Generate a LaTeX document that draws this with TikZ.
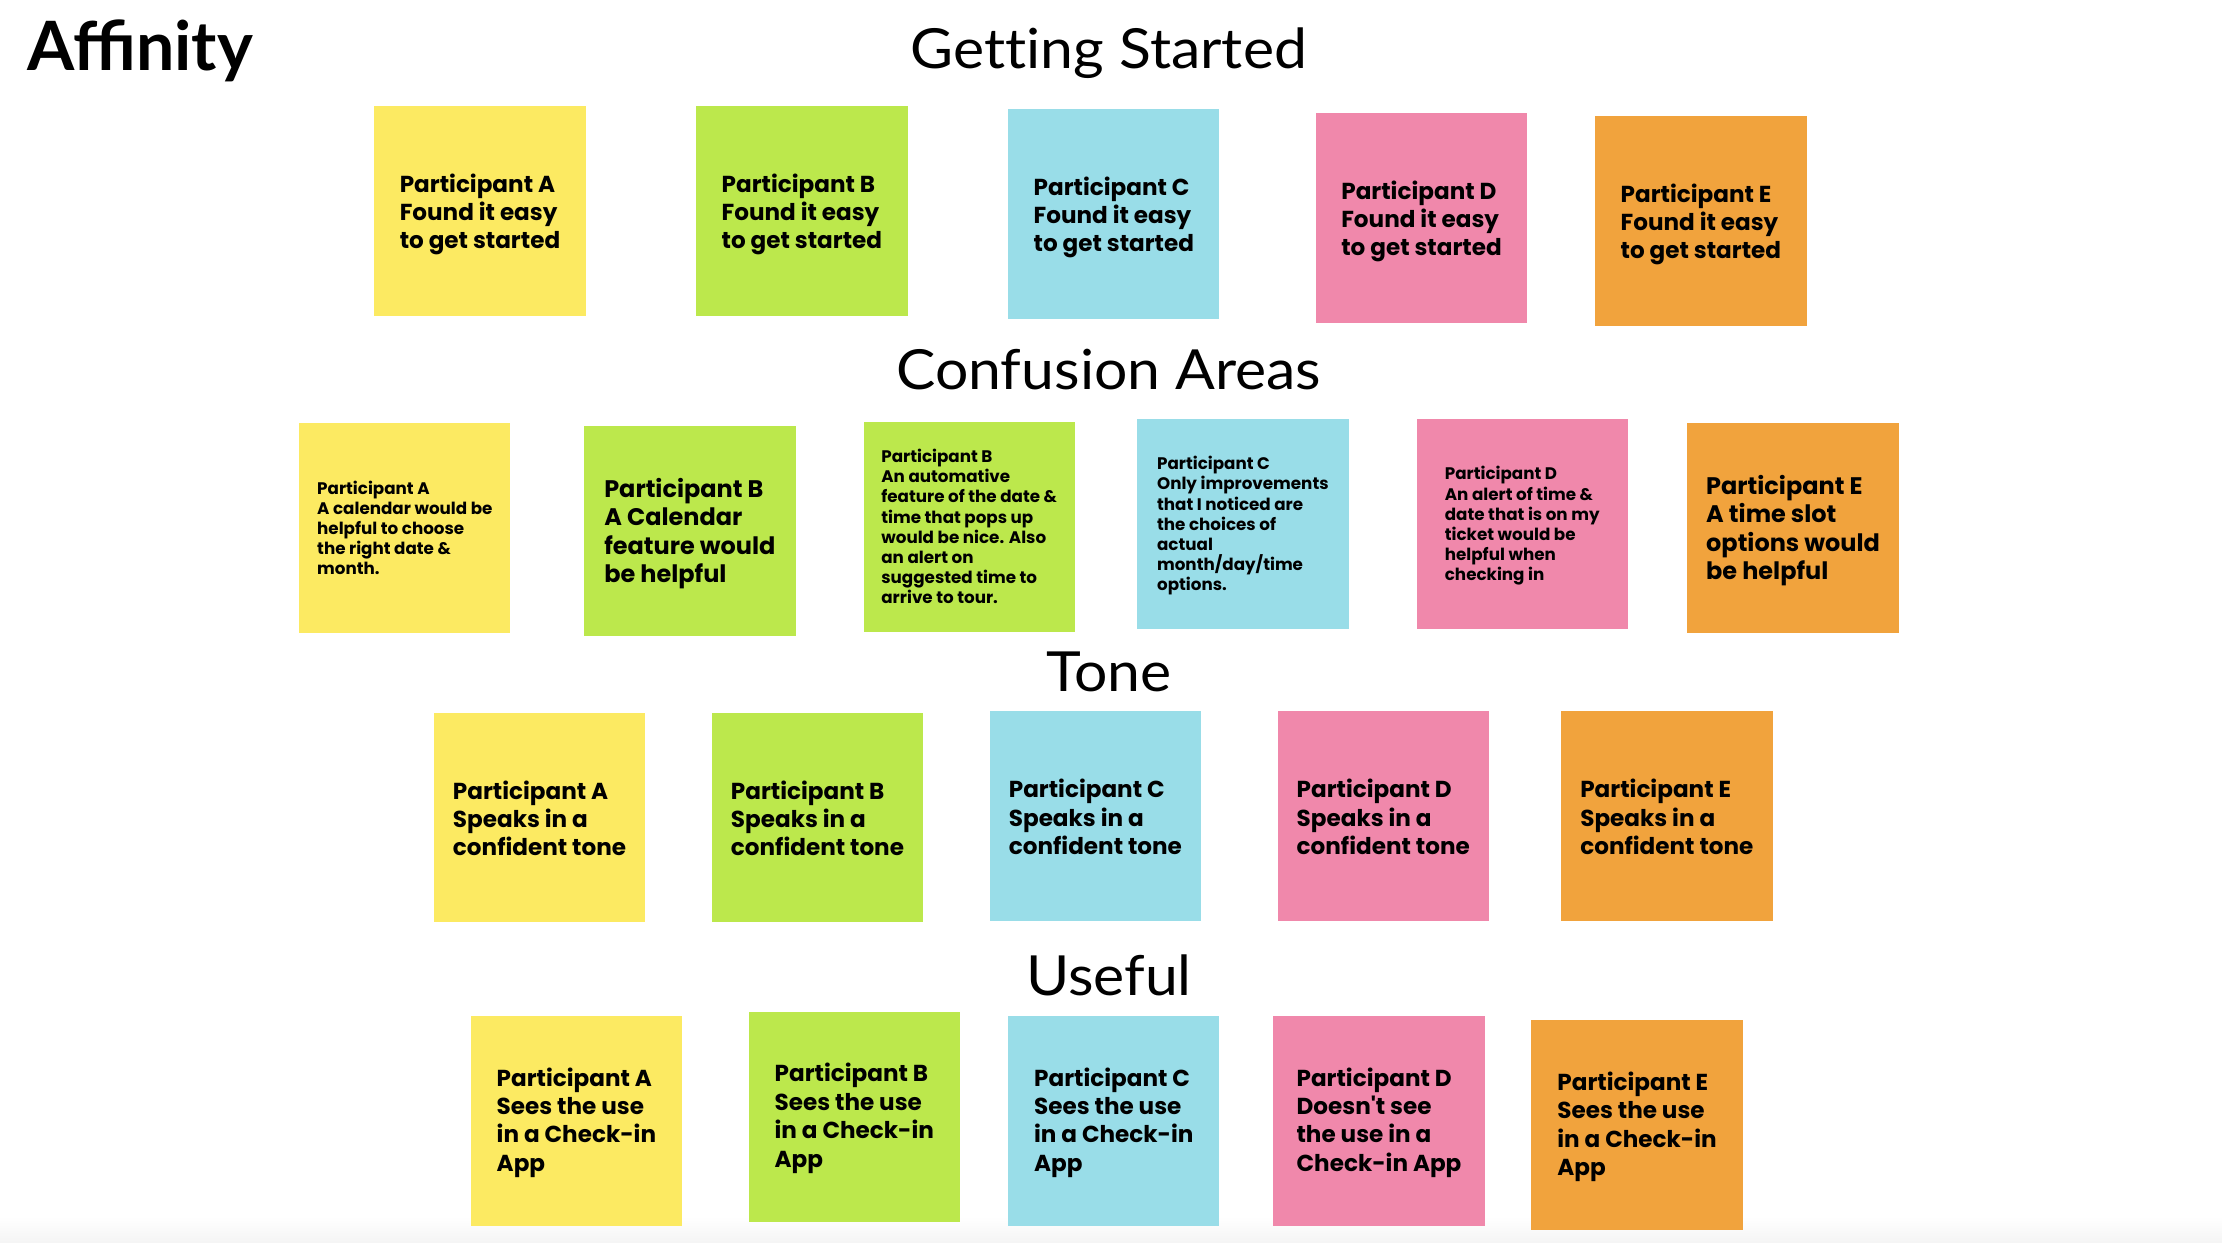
\documentclass[tikz,border=0pt]{standalone}
\usepackage{fontspec}
\setmainfont{Poppins}
\newfontfamily\headfont[FakeStretch=1.065, Ligatures=NoCommon]{Lato}
\newfontfamily\titlefont{Lato}
\newfontfamily\notefont{Poppins}
\definecolor{ylw}{HTML}{FCEA62}
\definecolor{grn}{HTML}{BCE84C}
\definecolor{cyn}{HTML}{99DDE8}
\definecolor{pnk}{HTML}{F088AB}
\definecolor{org}{HTML}{F1A33D}
\tikzset{
  notebox/.style={minimum width=149pt, minimum height=148pt, inner sep=0pt},
  notetext/.style={inner sep=0pt, align=left, text=black},
  bigtext/.style={notetext, font={\notefont\bfseries\fontsize{16.3}{20}\selectfont},
    execute at begin node={\rule{0pt}{15pt}}, execute at end node={\rule[-5pt]{0pt}{5pt}}},
  widetext/.style={bigtext, font={\notefont\bfseries\fontsize{16.9}{20}\selectfont}},
  smalltext/.style={notetext, font={\notefont\bfseries\fontsize{11.8}{14.2}\selectfont},
    execute at begin node={\rule{0pt}{10.8pt}}, execute at end node={\rule[-3.6pt]{0pt}{3.6pt}}},
  heading/.style={anchor=base, inner sep=0pt, font={\headfont\fontsize{39}{44}\selectfont}},
}
% #1 colour, #2 name, #3 centre, #4 text style, #5 text shift, #6 text
\newcommand\stickynote[6]{%
  \node[notebox, fill=#1] (#2) at (#3) {};
  \node[#4] (#2t) at ([yshift=#5]#2.center) {#6};}
\begin{document}
\begin{tikzpicture}[x=1pt, y=-1pt]
\useasboundingbox (0,0) rectangle (1567,876);
\shade[top color=white, bottom color=black!4] (0,858) rectangle (1567,876);
\node[anchor=base west, inner sep=0pt, font={\titlefont\bfseries\fontsize{48}{50}\selectfont}] (title) at (19,50) {Affinity};
% Getting Started
\node[heading] (h1) at (782,48) {Getting Started};
\stickynote{ylw}{g1}{338.5,149}{bigtext}{-2.5pt}{Participant A\\Found it easy\\to get started}
\stickynote{grn}{g2}{565.5,149}{bigtext}{-2.5pt}{Participant B\\Found it easy\\to get started}
\stickynote{cyn}{g3}{785.5,151}{bigtext}{-2.5pt}{Participant C\\Found it easy\\to get started}
\stickynote{pnk}{g4}{1002.5,154}{bigtext}{-2.5pt}{Participant D\\Found it easy\\to get started}
\stickynote{org}{g5}{1199.5,156}{bigtext}{-2.5pt}{Participant E\\Found it easy\\to get started}
% Confusion Areas
\node[heading] (h2) at (782,275) {Confusion Areas};
\stickynote{ylw}{c1}{285.5,372.5}{smalltext}{-1.5pt}{Participant A\\A calendar would be\\helpful to choose\\the right date \&\\month.}
\stickynote{grn}{c2}{486.5,374.5}{widetext}{-2pt}{Participant B\\A Calendar\\feature would\\be helpful}
\stickynote{grn}{c3}{683.5,371.5}{smalltext}{-1.5pt}{Participant B\\An automative\\feature of the date \&\\time that pops up\\would be nice. Also\\an alert on\\suggested time to\\arrive to tour.}
\stickynote{cyn}{c4}{876.5,369.5}{smalltext}{-1.5pt}{Participant C\\Only improvements\\that I noticed are\\the choices of\\actual\\month/day/time\\options.}
\stickynote{pnk}{c5}{1073.5,369.5}{smalltext}{-1.5pt}{Participant D\\An alert of time \&\\date that is on my\\ticket would be\\helpful when\\checking in}
\stickynote{org}{c6}{1264.5,372.5}{widetext}{-2pt}{Participant E\\A time slot\\options would\\be helpful}
% Tone
\node[heading] (h3) at (782,488) {Tone};
\stickynote{ylw}{t1}{380.5,576.5}{bigtext}{-3pt}{Participant A\\Speaks in a\\confident tone}
\stickynote{grn}{t2}{576.5,576.5}{bigtext}{-3pt}{Participant B\\Speaks in a\\confident tone}
\stickynote{cyn}{t3}{772.5,575.5}{bigtext}{-3pt}{Participant C\\Speaks in a\\confident tone}
\stickynote{pnk}{t4}{975.5,575.5}{bigtext}{-3pt}{Participant D\\Speaks in a\\confident tone}
\stickynote{org}{t5}{1175.5,575.5}{bigtext}{-3pt}{Participant E\\Speaks in a\\confident tone}
% Useful
\node[heading] (h4) at (782,702) {Useful};
\stickynote{ylw}{u1}{406.5,790.5}{bigtext}{-1.5pt}{Participant A\\Sees the use\\in a Check-in\\App}
\stickynote{grn}{u2}{602.5,787.5}{bigtext}{-1.5pt}{Participant B\\Sees the use\\in a Check-in\\App}
\stickynote{cyn}{u3}{785.5,790.5}{bigtext}{-1.5pt}{Participant C\\Sees the use\\in a Check-in\\App}
\stickynote{pnk}{u4}{972.5,790.5}{bigtext}{-1.5pt}{Participant D\\Doesn't see\\the use in a\\Check-in App}
\stickynote{org}{u5}{1154.5,793.5}{bigtext}{-1.5pt}{Participant E\\Sees the use\\in a Check-in\\App}
\end{tikzpicture}
\end{document}
